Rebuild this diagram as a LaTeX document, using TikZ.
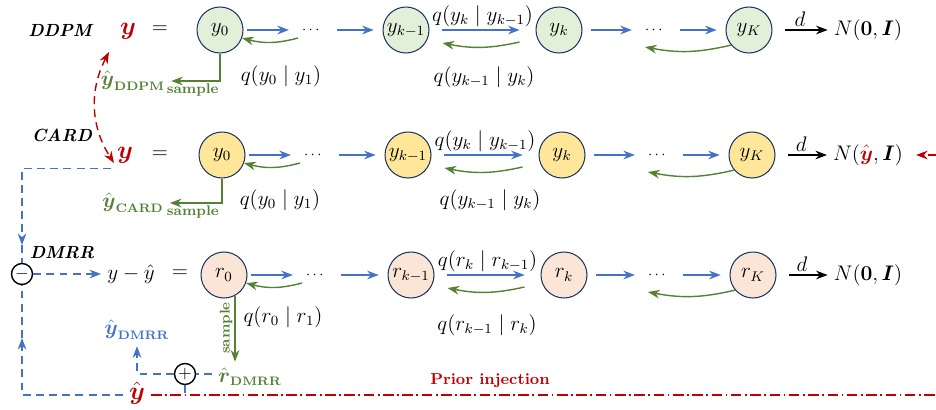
\documentclass[tikz,border=0pt]{standalone}
\usepackage{amsmath, amssymb}
\usepackage{xcolor}
\usepackage{tikz}
\usetikzlibrary{arrows.meta, positioning}
\definecolor{flowblue}{RGB}{68, 114, 196}
\definecolor{backgreen}{RGB}{84, 130, 53}
\definecolor{priorred}{RGB}{192, 0, 0}
\definecolor{ringnavy}{RGB}{32, 56, 100}
\definecolor{ddpmfill}{RGB}{226, 240, 217}
\definecolor{cardfill}{RGB}{255, 230, 153}
\definecolor{dmrrfill}{RGB}{251, 229, 214}
\newcommand{\subtag}[1]{\text{\scriptsize\bfseries #1}}

\begin{document}
\begin{tikzpicture}[x=0.02cm, y=-0.02cm, font=\large, >=Stealth,
   st/.style={draw=ringnavy, circle, minimum size=0.92cm, inner sep=0pt, line width=0.6pt},
   dd/.style={minimum width=0.84cm, inner sep=0pt, font=\footnotesize},
   fw/.style={->, flowblue, line width=0.8pt, shorten <=2pt, shorten >=1pt},
   lb/.style={midway, above=0pt, inner sep=1.5pt, black},
   bw/.style={->, backgreen, line width=0.8pt},
   dw/.style={->, line width=0.8pt, shorten <=7pt},
   dsh/.style={flowblue, dash pattern=on 4.5pt off 3pt, line width=0.8pt},
   tag/.style={font=\normalsize\bfseries\itshape},
   yy/.style={priorred, font=\Large},
   smp/.style={backgreen, font=\footnotesize\bfseries, inner sep=1pt},
   op/.style={draw, circle, minimum size=0.42cm, inner sep=0pt, line width=0.8pt, font=\normalsize}]
  \useasboundingbox (0,0) rectangle (936,409);
  % DDPM
  \node[tag] (t1) at (60,30) {DDPM}; \node[yy] (ya) at (128,31) {$\boldsymbol{y}$}; \node (e1) at (160,30) {$=$};
  \node[st, fill=ddpmfill] (a0) at (220,30) {$y_0$}; \node[dd] (ad1) at (312,30) {$\cdots$};
  \node[st, fill=ddpmfill] (a1) at (406,30) {$y_{k-1}$}; \node[st, fill=ddpmfill] (a2) at (559,30) {$y_k$};
  \node[dd] (ad2) at (655,30) {$\cdots$}; \node[st, fill=ddpmfill] (a3) at (749,30) {$y_K$};
  \node (an) at (868,30) {$N(\mathbf{0},\boldsymbol{I})$};
  \draw[fw] (a0) -- (ad1); \draw[fw, shorten >=5pt] (ad1) -- (a1);
  \draw[fw, shorten <=7pt, shorten >=9pt] (a1) -- (a2) node[lb] {$q(y_k \mid y_{k-1})$};
  \draw[fw, shorten <=5pt] (a2) -- (ad2); \draw[fw, shorten >=5pt] (ad2) -- (a3);
  \draw[dw] (a3) -- (an) node[lb] {$d$};
  \draw[bw] ([shift={(-14,8)}]ad1.center) to[bend left=15] (a0.-20);
  \draw[bw] ([shift={(-16,12)}]a2.west) to[bend left=12] ([shift={(13,13)}]a1.east);
  \draw[bw] (a3.-140) to[bend left=12] ([shift={(-10,17)}]ad2.center);
  \node (l0) at (281,76) {$q(y_0 \mid y_1)$}; \node (l1) at (484,77) {$q(y_{k-1} \mid y_k)$};
  \node[backgreen] (ha) at (133,81) {$\hat{\boldsymbol{y}}_{\subtag{DDPM}}$};
  \draw[bw] (a0.south) |- (ha) node[pos=0.78, below, smp] {sample};
  % CARD
  \node[tag] (t2) at (62,135) {CARD}; \node[yy] (yb) at (125,155) {$\boldsymbol{y}$}; \node (e2) at (160,155) {$=$};
  \node[st, fill=cardfill] (b0) at (222,155) {$y_0$}; \node[dd] (bd1) at (314,155) {$\cdots$};
  \node[st, fill=cardfill] (b1) at (408,155) {$y_{k-1}$}; \node[st, fill=cardfill] (b2) at (562,155) {$y_k$};
  \node[dd] (bd2) at (658,155) {$\cdots$}; \node[st, fill=cardfill] (b3) at (752,155) {$y_K$};
  \node (bn) at (868,155) {$N(\textcolor{priorred}{\hat{\boldsymbol{y}}},\boldsymbol{I})$};
  \draw[fw] (b0) -- (bd1); \draw[fw, shorten >=5pt] (bd1) -- (b1);
  \draw[fw, shorten <=7pt, shorten >=9pt] (b1) -- (b2) node[lb] {$q(y_k \mid y_{k-1})$};
  \draw[fw, shorten <=5pt] (b2) -- (bd2); \draw[fw, shorten >=5pt] (bd2) -- (b3);
  \draw[dw] (b3) -- (bn) node[lb] {$d$};
  \draw[bw] ([shift={(-14,8)}]bd1.center) to[bend left=15] (b0.-20);
  \draw[bw] ([shift={(-16,12)}]b2.west) to[bend left=12] ([shift={(13,13)}]b1.east);
  \draw[bw] (b3.-140) to[bend left=12] ([shift={(-10,17)}]bd2.center);
  \node (m0) at (280,200) {$q(y_0 \mid y_1)$}; \node (m1) at (490,200) {$q(y_{k-1} \mid y_k)$};
  \node[backgreen] (hb) at (133,203) {$\hat{\boldsymbol{y}}_{\subtag{CARD}}$};
  \draw[bw] (b0.south) |- (hb) node[pos=0.78, below, smp] {sample};
  \coordinate (pin) at (936,155);
  \draw[->, priorred, dash pattern=on 4.5pt off 3pt, line width=0.8pt, shorten >=4pt] (pin) -- (bn);
  \draw[<->, priorred, dash pattern=on 4.5pt off 3pt, line width=0.8pt] ([shift={(-19,21)}]ya.center) to[bend right=30] ([shift={(-11,8)}]yb.center);
  % DMRR
  \node[tag] (t3) at (62,253) {DMRR}; \node[op] (mi) at (22,274) {$-$};
  \node (dl) at (131,274) {$y-\hat{y}$}; \node (e3) at (180,274) {$=$};
  \node[st, fill=dmrrfill] (c0) at (224,275) {$r_0$}; \node[dd] (cd1) at (316,275) {$\cdots$};
  \node[st, fill=dmrrfill] (c1) at (411,275) {$r_{k-1}$}; \node[st, fill=dmrrfill] (c2) at (564,275) {$r_k$};
  \node[dd] (cd2) at (658,275) {$\cdots$}; \node[st, fill=dmrrfill] (c3) at (753,275) {$r_K$};
  \node (cn) at (868,275) {$N(\mathbf{0},\boldsymbol{I})$};
  \draw[fw] (c0) -- (cd1); \draw[fw, shorten >=5pt] (cd1) -- (c1);
  \draw[fw, shorten <=7pt, shorten >=9pt] (c1) -- (c2) node[lb] {$q(r_k \mid r_{k-1})$};
  \draw[fw, shorten <=5pt] (c2) -- (cd2); \draw[fw, shorten >=5pt] (cd2) -- (c3);
  \draw[dw] (c3) -- (cn) node[lb] {$d$};
  \draw[bw] ([shift={(-14,8)}]cd1.center) to[bend left=15] (c0.-20);
  \draw[bw] ([shift={(-16,12)}]c2.west) to[bend left=12] ([shift={(13,13)}]c1.east);
  \draw[bw] (c3.-140) to[bend left=12] ([shift={(-10,17)}]cd2.center);
  \node (n0) at (283,317) {$q(r_0 \mid r_1)$}; \node (n1) at (487,325) {$q(r_{k-1} \mid r_k)$};
  \node[op] (pl) at (185,374) {$+$};
  \node[backgreen] (rh) at (250,377) {$\hat{\boldsymbol{r}}_{\subtag{DMRR}}$};
  \node[flowblue] (hd) at (137,330) {$\hat{\boldsymbol{y}}_{\subtag{DMRR}}$};
  \node[yy] (yh) at (137,393) {$\hat{\boldsymbol{y}}$};
  \node[priorred, font=\small\bfseries] (pj) at (490,381) {Prior injection};
  \coordinate (rend) at (936,395);
  \draw[bw] (c0.-62) -- (c0.-62 |- rh.north);
  \node[smp, rotate=90] (s3) at (226,328) {sample};
  \draw[dsh] (rh.west |- pl.east) -- (pl.east);
  \draw[dsh, ->] (pl) -| (hd);
  \draw[dsh] (pl) -- (pl |- rend);
  \coordinate (ma) at (22,245); \coordinate (mb) at (22,338);
  \draw[dsh, ->] ([shift={(0,-1)}]yb.south west) -| (ma); \draw[dsh] (ma) -- (mi);
  \draw[dsh, ->] (yh.west |- rend) -| (mb); \draw[dsh] (mb) -- (mi);
  \draw[dsh, ->] (mi) -- (dl);
  \draw[priorred, line width=0.8pt, dash pattern=on 6pt off 2pt on 1pt off 2pt] (yh.east |- rend) -- (rend);
\end{tikzpicture}
\end{document}
